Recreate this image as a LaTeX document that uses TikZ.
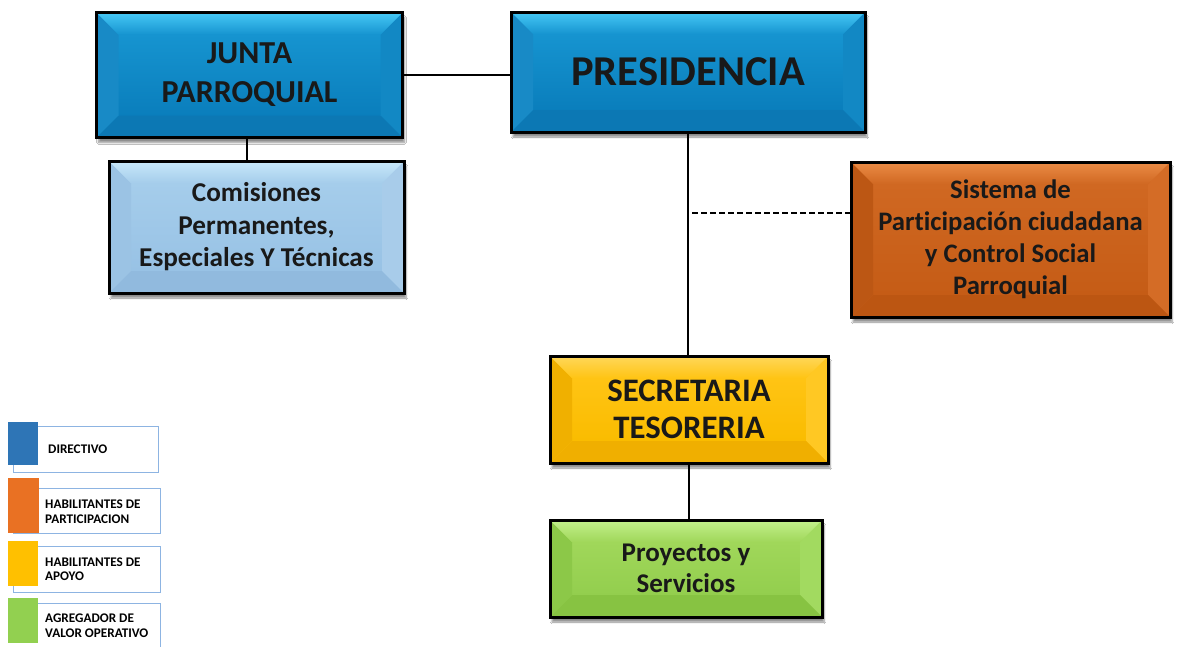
\documentclass[tikz,border=0pt]{standalone}
\usepackage{fontspec}
\setmainfont{Carlito}[Ligatures=NoCommon]
\usetikzlibrary{calc,shadows.blur}
\definecolor{bluTop}{RGB}{70,200,245}
\definecolor{bluA}{RGB}{22,148,208}
\definecolor{bluB}{RGB}{10,126,188}
\definecolor{bluL}{RGB}{24,138,198}
\definecolor{bluR}{RGB}{18,136,196}
\definecolor{bluBot}{RGB}{12,120,180}
\definecolor{lbTop}{RGB}{200,232,250}
\definecolor{lbA}{RGB}{165,205,235}
\definecolor{lbB}{RGB}{152,194,229}
\definecolor{lbL}{RGB}{155,195,228}
\definecolor{lbR}{RGB}{168,204,234}
\definecolor{lbBot}{RGB}{145,186,222}
\definecolor{orTop}{RGB}{235,140,70}
\definecolor{orA}{RGB}{208,104,34}
\definecolor{orB}{RGB}{197,92,22}
\definecolor{orL}{RGB}{188,87,20}
\definecolor{orR}{RGB}{212,108,38}
\definecolor{orBot}{RGB}{188,86,18}
\definecolor{yeTop}{RGB}{255,215,90}
\definecolor{yeA}{RGB}{255,196,20}
\definecolor{yeB}{RGB}{250,188,0}
\definecolor{yeL}{RGB}{240,176,0}
\definecolor{yeR}{RGB}{255,200,35}
\definecolor{yeBot}{RGB}{240,175,0}
\definecolor{grTop}{RGB}{195,240,140}
\definecolor{grA}{RGB}{160,215,90}
\definecolor{grB}{RGB}{147,206,78}
\definecolor{grL}{RGB}{140,200,72}
\definecolor{grR}{RGB}{162,218,96}
\definecolor{grBot}{RGB}{135,195,66}
\definecolor{legFrame}{RGB}{141,180,226}
\definecolor{legBlue}{RGB}{46,117,182}
\definecolor{legOrange}{RGB}{233,113,35}
\definecolor{legYellow}{RGB}{255,192,0}
\definecolor{legGreen}{RGB}{146,208,80}
\definecolor{txt}{RGB}{25,25,25}
\tikzset{
  bx/.style n args={6}{
    draw=black, line width=3pt, fill=#2, inner sep=0pt, align=center,
    text=txt,
    blur shadow={shadow xshift=2pt, shadow yshift=-5pt, shadow blur steps=6, shadow opacity=45},
    path picture={
      \coordinate (NW) at (path picture bounding box.north west);
      \coordinate (NE) at (path picture bounding box.north east);
      \coordinate (SW) at (path picture bounding box.south west);
      \coordinate (SE) at (path picture bounding box.south east);
      \coordinate (iNW) at ($(NW)+(22,22)$);
      \coordinate (iNE) at ($(NE)+(-22,22)$);
      \coordinate (iSW) at ($(SW)+(22,-22)$);
      \coordinate (iSE) at ($(SE)+(-22,-22)$);
      \shade[top color=#1, bottom color=#1] (NW) rectangle (SE);
      \shade[top color=#1, bottom color=#2] (iNW) rectangle (iSE);
      \fill[#4] (NW) -- (iNW) -- (iSW) -- (SW) -- cycle;
      \fill[#5] (NE) -- (iNE) -- (iSE) -- (SE) -- cycle;
      \fill[#6] (SW) -- (iSW) -- (iSE) -- (SE) -- cycle;
      \shade[top color=#3, bottom color=#1] (NW) -- (NE) -- (iNE) -- (iNW) -- cycle;
    }
  },
  conn/.style={draw=black, line width=2pt},
  legtxt/.style={anchor=west, align=left, inner sep=0pt, font=\bfseries\fontsize{13.2}{14.5}\selectfont, text=black},
  legsq/.style={inner sep=0pt, minimum width=30pt, anchor=north west},
}
\begin{document}
\begin{tikzpicture}[x=1pt,y=-1pt]
\useasboundingbox (0,0) rectangle (1177,646);
\fill[white] (0,0) rectangle (1177,646);
% connectors
\coordinate (dj) at (692,213);
\node[minimum width=306pt, minimum height=125pt, inner sep=0pt] (juntaP) at (249.5,74.5) {};
\node[minimum width=354pt, minimum height=120pt, inner sep=0pt] (presP) at (688,72) {};
\node[minimum width=295pt, minimum height=132pt, inner sep=0pt] (comP) at (256.5,227) {};
\node[minimum width=319pt, minimum height=155pt, inner sep=0pt] (sisP) at (1010.5,239.5) {};
\node[minimum width=278pt, minimum height=107pt, inner sep=0pt] (secP) at (689,409.5) {};
\node[minimum width=272pt, minimum height=97pt, inner sep=0pt] (proP) at (686,568.5) {};
\draw[conn] (juntaP.east |- 0,75) -- (presP.west |- 0,75);
\draw[conn] (juntaP.south -| 247,0) -- (comP.north -| 247,0);
\draw[conn] (presP.south) -- (presP.south |- secP.north);
\draw[conn] (secP.south) -- (secP.south |- proP.north);
\draw[draw=black, line width=2pt, dash pattern=on 6pt off 3pt] (dj) -- (dj -| sisP.west);
% boxes
\node[bx={bluA}{bluB}{bluTop}{bluL}{bluR}{bluBot}, minimum width=306pt, minimum height=125pt,
      font=\bfseries\fontsize{32}{39}\selectfont] (junta) at (249.5,75) {JUNTA\\PARROQUIAL};
\node[bx={bluA}{bluB}{bluTop}{bluL}{bluR}{bluBot}, minimum width=354pt, minimum height=120pt,
      font=\bfseries\fontsize{42.5}{48}\selectfont] (pres) at (688,72) {PRESIDENCIA};
\node[bx={lbA}{lbB}{lbTop}{lbL}{lbR}{lbBot}, minimum width=295pt, minimum height=132pt,
      font=\bfseries\fontsize{27.2}{32.5}\selectfont] (com) at (256.5,227) {Comisiones\\Permanentes,\\Especiales Y Técnicas};
\node[bx={orA}{orB}{orTop}{orL}{orR}{orBot}, minimum width=319pt, minimum height=155pt,
      font=\bfseries\fontsize{26.7}{32}\selectfont] (sis) at (1010.5,239.5) {Sistema de\\Participación ciudadana\\y Control Social\\Parroquial};
\node[bx={yeA}{yeB}{yeTop}{yeL}{yeR}{yeBot}, minimum width=278pt, minimum height=107pt,
      font=\bfseries\fontsize{32.8}{37.5}\selectfont] (sec) at (689,409.5) {SECRETARIA\\TESORERIA};
\node[bx={grA}{grB}{grTop}{grL}{grR}{grBot}, minimum width=272pt, minimum height=97pt,
      font=\bfseries\fontsize{27}{31.5}\selectfont] (proy) at (686,568.5) {Proyectos y\\Servicios};
% legend
\draw[legFrame, line width=1pt] (13,426) rectangle (158,472);
\draw[legFrame, line width=1pt] (13,488) rectangle (160,533);
\draw[legFrame, line width=1pt] (13,546) rectangle (160,592);
\draw[legFrame, line width=1pt] (13,603) -- (160,603) -- (160,660);
\node[legsq, fill=legBlue, minimum height=43pt] (sq1) at (8,422) {};
\node[legsq, fill=legOrange, minimum width=31pt, minimum height=55pt] (sq2) at (8,478) {};
\node[legsq, fill=legYellow, minimum height=45pt] (sq3) at (8,541) {};
\node[legsq, fill=legGreen, minimum height=45pt] (sq4) at (8,598) {};
\node[legtxt] (l1) at (48,449) {DIRECTIVO};
\node[legtxt] (l2) at (45,511.5) {HABILITANTES DE\\PARTICIPACION};
\node[legtxt] (l3) at (45,569) {HABILITANTES DE\\APOYO};
\node[legtxt] (l4) at (45,625.5) {AGREGADOR DE\\VALOR OPERATIVO};
\end{tikzpicture}
\end{document}
